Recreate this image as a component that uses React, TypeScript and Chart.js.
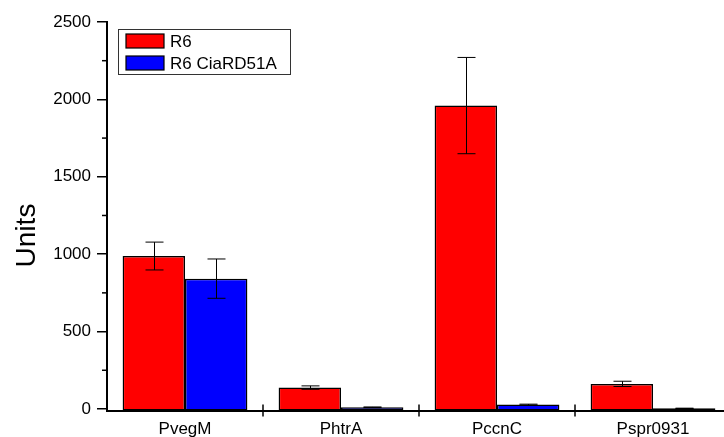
import React, { useEffect, useRef } from 'react';
import { Chart, registerables } from 'chart.js';

Chart.register(...registerables);

const CATEGORIES = ['PvegM', 'PhtrA', 'PccnC', 'Pspr0931'];
const R6_VALUES = [988, 138, 1960, 162];
const R6_ERRORS = [90, 11, 311, 17];
const MUT_VALUES = [842, 11, 28, 4];
const MUT_ERRORS = [127, 2, 3, 1];
const Y_TICKS = [0, 500, 1000, 1500, 2000, 2500];
const Y_MINOR = [250, 750, 1250, 1750, 2250];
const Y_MIN = -10;
const Y_MAX = 2500;
const SERIES_LABELS = ['R6', 'R6 CiaRD51A'];
const Y_TITLE = 'Units';

const FONT = '"Liberation Sans", Arial, sans-serif';

const errorBarsPlugin = {
  id: 'errorBars',
  afterDatasetsDraw(chart: any) {
    const ctx = chart.ctx;
    const y = chart.scales.y;
    ctx.save();
    ctx.strokeStyle = '#000';
    ctx.lineWidth = 1;
    chart.data.datasets.forEach((ds: any, di: number) => {
      const meta = chart.getDatasetMeta(di);
      meta.data.forEach((bar: any, i: number) => {
        const v = ds.data[i];
        const e = ds.errors[i];
        const x = Math.round(bar.x) + 0.5;
        const yt = y.getPixelForValue(v + e);
        const yb = y.getPixelForValue(v - e);
        ctx.beginPath();
        ctx.moveTo(x, yt);
        ctx.lineTo(x, yb);
        ctx.moveTo(x - 9, yt);
        ctx.lineTo(x + 9, yt);
        ctx.moveTo(x - 9, yb);
        ctx.lineTo(x + 9, yb);
        ctx.stroke();
      });
    });
    ctx.restore();
  },
};

const decorPlugin = {
  id: 'decor',
  afterDraw(chart: any) {
    const ctx = chart.ctx;
    const { x, y } = chart.scales;
    const area = chart.chartArea;
    ctx.save();
    ctx.strokeStyle = '#000';
    ctx.lineWidth = 1.5;
    // minor y ticks
    Y_MINOR.forEach((v) => {
      const py = y.getPixelForValue(v);
      ctx.beginPath();
      ctx.moveTo(area.left - 5, py);
      ctx.lineTo(area.left, py);
      ctx.stroke();
    });
    // x ticks crossing the axis at category boundaries
    for (let i = 0; i < CATEGORIES.length - 1; i++) {
      const px = (x.getPixelForValue(i) + x.getPixelForValue(i + 1)) / 2;
      ctx.beginPath();
      ctx.moveTo(px, area.bottom - 6);
      ctx.lineTo(px, area.bottom + 6);
      ctx.stroke();
    }
    // y title
    ctx.fillStyle = '#000';
    ctx.font = `28px ${FONT}`;
    ctx.textAlign = 'center';
    ctx.textBaseline = 'alphabetic';
    ctx.translate(35, 235.5);
    ctx.rotate(-Math.PI / 2);
    ctx.fillText(Y_TITLE, 0, 0);
    ctx.restore();

    // legend
    ctx.save();
    ctx.strokeStyle = '#333';
    ctx.lineWidth = 1;
    ctx.strokeRect(118.5, 29.5, 172, 45);
    ctx.font = `17px ${FONT}`;
    ctx.textAlign = 'left';
    ctx.textBaseline = 'middle';
    chart.data.datasets.forEach((ds: any, i: number) => {
      const top = 34 + i * 22;
      ctx.fillStyle = ds.backgroundColor;
      ctx.fillRect(126, top, 38, 14);
      ctx.strokeStyle = '#000';
      ctx.lineWidth = 1.2;
      ctx.strokeRect(126, top, 38, 14);
      ctx.fillStyle = '#000';
      ctx.fillText(ds.label, 170, top + 8);
    });
    ctx.restore();
  },
};

export default function App() {
  const ref = useRef<HTMLCanvasElement>(null);
  useEffect(() => {
    const canvas = ref.current!;
    Chart.defaults.font.family = FONT;
    const chart = new Chart(canvas, {
      type: 'bar',
      data: {
        labels: CATEGORIES,
        datasets: [
          {
            label: SERIES_LABELS[0],
            data: R6_VALUES,
            errors: R6_ERRORS,
            backgroundColor: '#FF0000',
            borderColor: '#000',
            borderWidth: 1.5,
            borderSkipped: false,
            base: Y_MIN,
            categoryPercentage: 0.8,
            barPercentage: 1.0,
          } as any,
          {
            label: SERIES_LABELS[1],
            data: MUT_VALUES,
            errors: MUT_ERRORS,
            backgroundColor: '#0000FF',
            borderColor: '#000',
            borderWidth: 1.5,
            borderSkipped: false,
            base: Y_MIN,
            categoryPercentage: 0.8,
            barPercentage: 1.0,
          } as any,
        ],
      },
      options: {
        responsive: false,
        devicePixelRatio: 1,
        animation: false,
        layout: { padding: { top: 22, right: 9, left: 0, bottom: 0 } },
        plugins: {
          legend: { display: false },
          tooltip: { enabled: false },
        },
        scales: {
          x: {
            type: 'category',
            offset: true,
            grid: { display: false, drawOnChartArea: false },
            border: { display: true, color: '#000', width: 2 },
            ticks: {
              color: '#000',
              font: { family: FONT, size: 17 },
              padding: 1,
              maxRotation: 0,
              autoSkip: false,
            },
            afterFit: (s: any) => {
              s.height = 26.5;
            },
          },
          y: {
            type: 'linear',
            min: Y_MIN,
            max: Y_MAX,
            afterBuildTicks: (s: any) => {
              s.ticks = Y_TICKS.map((v) => ({ value: v }));
            },
            grid: {
              drawOnChartArea: false,
              drawTicks: true,
              tickLength: 10,
              color: '#000',
              lineWidth: 1.5,
            },
            border: { display: true, color: '#000', width: 2 },
            ticks: {
              color: '#000',
              font: { family: FONT, size: 17 },
              padding: 6,
              callback: (v: any) => String(v),
            },
            afterFit: (s: any) => {
              s.width = 107;
            },
          },
        },
      } as any,
      plugins: [errorBarsPlugin, decorPlugin],
    });
    return () => chart.destroy();
  }, []);
  return (
    <div
      style={{
        position: 'fixed',
        left: 0,
        top: 0,
        width: 724,
        height: 437,
        overflow: 'hidden',
        background: '#fff',
      }}
    >
      <canvas ref={ref} width={740} height={437} style={{ display: 'block', width: 740, height: 437 }} />
    </div>
  );
}
